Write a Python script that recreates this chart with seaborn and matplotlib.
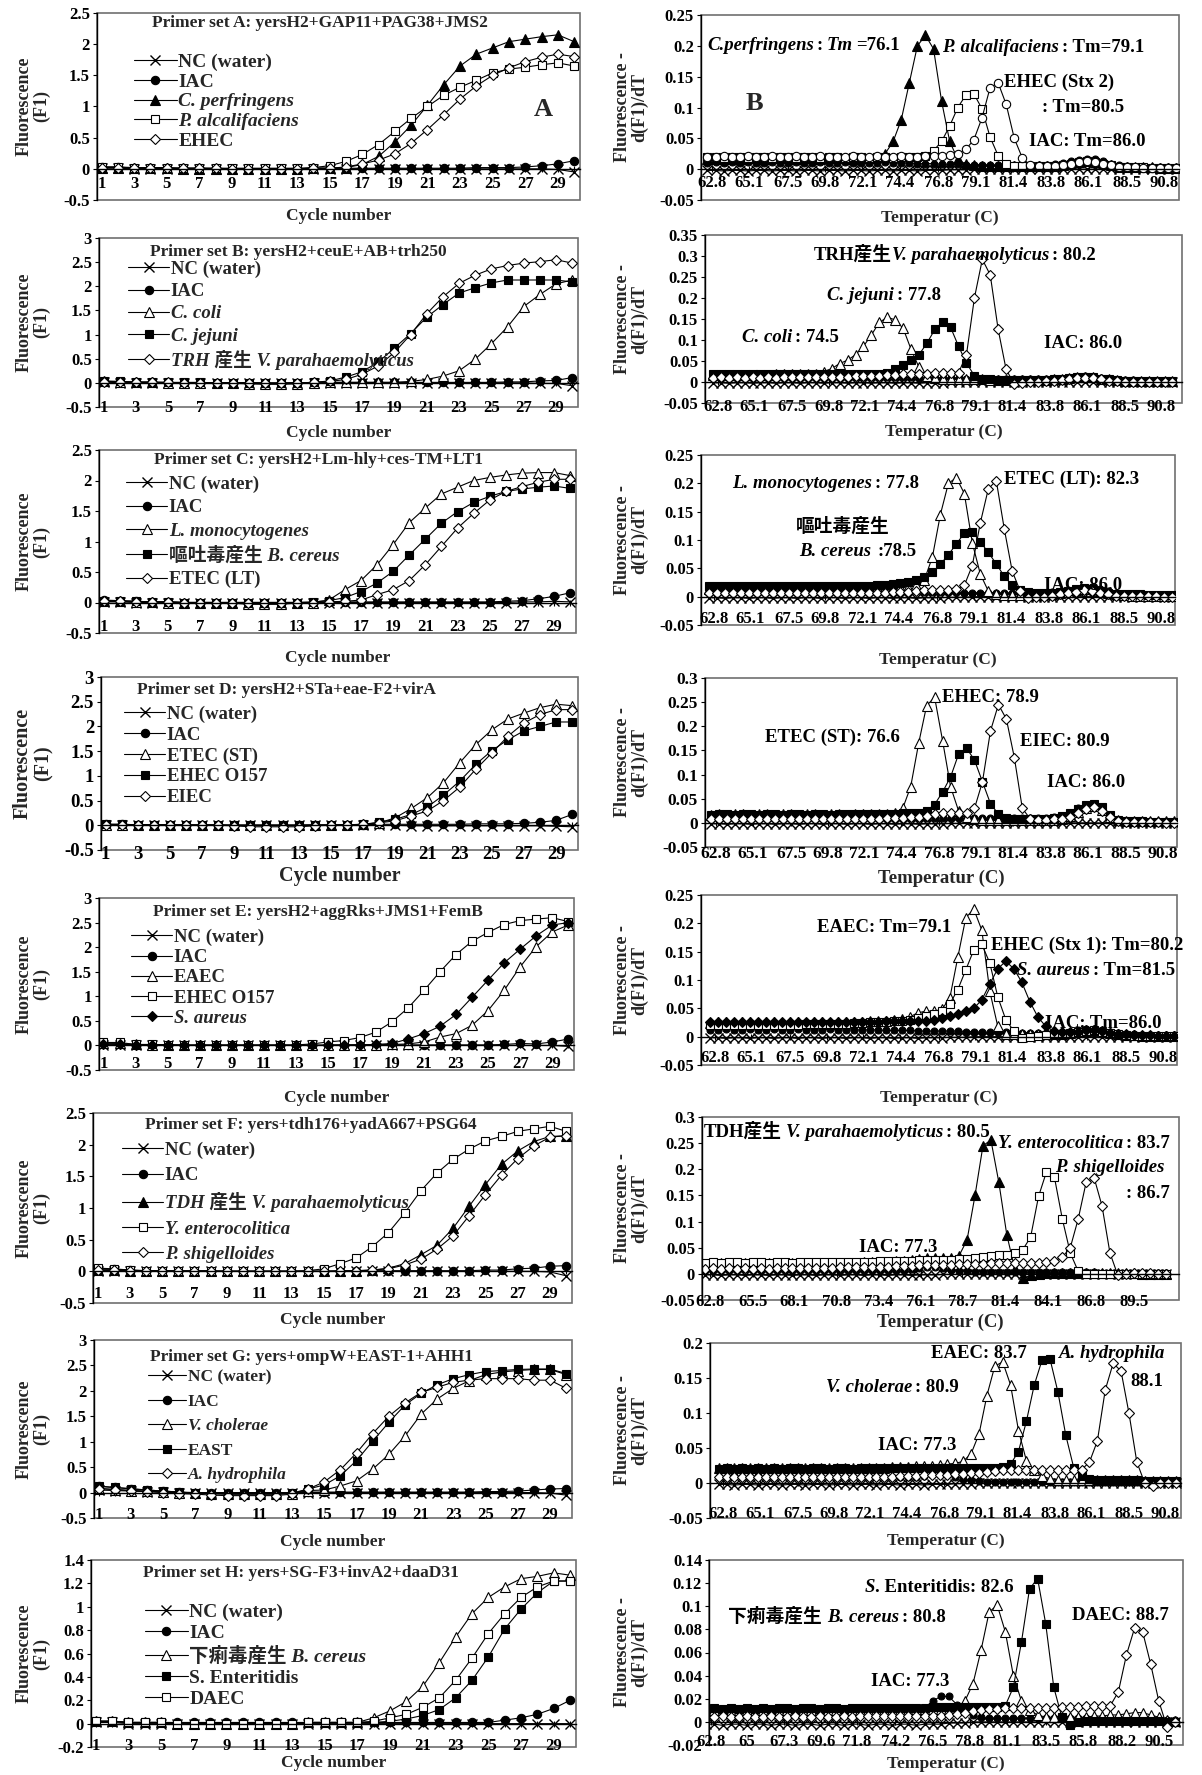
import matplotlib
matplotlib.use("Agg")
import matplotlib.pyplot as plt
import numpy as np
import seaborn as sns
from matplotlib.patches import Rectangle
from matplotlib.ticker import FuncFormatter

W, H = 1202, 1775

cycles = np.arange(1, 31)
melt_temps = np.arange(62.5, 91.6, 0.5)   # 59 read-out temperatures

# ---------------- amplification curves, F1 per cycle ----------------
ampA_nc = [0.01, 0.01, 0.0, 0.0, 0.0, 0.0, 0.0, 0.0, 0.0, 0.0, 0.0, 0.0, 0.0, 0.0, 0.0, 0.0, 0.0, 0.0, 0.0, 0.0, 0.0, 0.0, 0.0, 0.0, 0.0, 0.0, 0.0, 0.0, -0.01, -0.05]
ampA_iac = [0.03, 0.03, 0.01, 0.01, 0.01, 0.01, 0.01, 0.0, 0.0, 0.0, 0.0, 0.0, 0.0, 0.01, 0.01, 0.01, 0.01, 0.01, 0.01, 0.01, 0.01, 0.01, 0.01, 0.02, 0.02, 0.02, 0.03, 0.05, 0.08, 0.13]
ampA_cperf = [0.02, 0.02, 0.01, 0.01, 0.01, 0.0, 0.0, 0.0, 0.0, 0.0, 0.0, 0.0, 0.0, 0.01, 0.01, 0.02, 0.07, 0.2, 0.43, 0.7, 1.02, 1.35, 1.65, 1.84, 1.94, 2.04, 2.08, 2.12, 2.15, 2.04]
ampA_palc = [0.03, 0.03, 0.02, 0.02, 0.02, 0.01, 0.01, 0.01, 0.01, 0.01, 0.01, 0.01, 0.01, 0.02, 0.05, 0.12, 0.23, 0.39, 0.6, 0.81, 1.0, 1.18, 1.31, 1.42, 1.54, 1.6, 1.63, 1.67, 1.7, 1.65]
ampA_ehec = [0.02, 0.02, 0.01, 0.01, 0.01, 0.01, 0.01, 0.01, 0.0, 0.0, 0.0, 0.0, 0.0, 0.01, 0.01, 0.03, 0.08, 0.14, 0.24, 0.41, 0.63, 0.87, 1.12, 1.33, 1.5, 1.62, 1.72, 1.79, 1.84, 1.8]

ampB_nc = [0.02, 0.0, 0.0, 0.0, 0.0, 0.0, 0.0, 0.0, 0.0, 0.0, -0.01, -0.01, 0.0, 0.0, 0.0, 0.0, 0.0, 0.0, 0.0, 0.0, 0.0, 0.0, 0.0, 0.0, 0.0, 0.0, 0.0, -0.01, -0.01, -0.06]
ampB_iac = [0.03, 0.02, 0.01, 0.01, 0.0, 0.0, 0.0, 0.0, 0.0, 0.0, -0.01, -0.01, 0.0, 0.0, 0.01, 0.01, 0.01, 0.01, 0.01, 0.01, 0.01, 0.01, 0.01, 0.01, 0.01, 0.02, 0.02, 0.04, 0.05, 0.11]
ampB_ccoli = [0.03, 0.02, 0.01, 0.01, 0.0, 0.0, 0.0, 0.0, -0.01, -0.02, -0.03, -0.03, -0.02, 0.0, 0.01, 0.01, 0.01, 0.01, 0.01, 0.03, 0.07, 0.14, 0.25, 0.49, 0.81, 1.16, 1.58, 1.83, 2.05, 2.13]
ampB_cjej = [0.04, 0.03, 0.02, 0.02, 0.01, 0.01, 0.01, 0.0, 0.0, 0.0, -0.01, -0.01, 0.0, 0.01, 0.04, 0.12, 0.23, 0.43, 0.72, 1.02, 1.36, 1.62, 1.86, 1.97, 2.07, 2.13, 2.13, 2.13, 2.13, 2.09]
ampB_trh = [0.02, 0.02, 0.01, 0.01, 0.01, 0.0, 0.0, 0.0, 0.0, 0.0, 0.0, 0.0, 0.0, 0.01, 0.03, 0.07, 0.18, 0.35, 0.63, 1.0, 1.43, 1.78, 2.06, 2.23, 2.36, 2.43, 2.48, 2.51, 2.55, 2.48]

ampC_nc = [0.01, 0.01, 0.0, 0.0, 0.0, 0.0, 0.0, 0.0, 0.0, 0.0, 0.0, 0.0, 0.0, 0.0, 0.0, 0.0, 0.0, 0.0, 0.0, 0.0, 0.0, 0.0, 0.0, 0.0, 0.0, 0.0, 0.01, 0.01, 0.02, 0.01]
ampC_iac = [0.04, 0.03, 0.02, 0.01, 0.01, 0.0, 0.0, 0.0, 0.0, 0.0, 0.0, 0.0, 0.0, 0.0, 0.01, 0.01, 0.01, 0.01, 0.01, 0.01, 0.01, 0.01, 0.01, 0.01, 0.01, 0.02, 0.03, 0.06, 0.1, 0.16]
ampC_lmono = [0.02, 0.02, 0.01, 0.01, 0.0, 0.0, 0.0, 0.0, -0.01, -0.03, -0.03, -0.03, -0.01, 0.0, 0.04, 0.21, 0.36, 0.62, 0.95, 1.31, 1.55, 1.78, 1.89, 2.0, 2.05, 2.09, 2.12, 2.13, 2.13, 2.08]
ampC_bcer = [0.03, 0.03, 0.02, 0.01, 0.01, 0.0, 0.0, 0.0, 0.0, 0.0, 0.0, 0.0, 0.0, 0.01, 0.03, 0.08, 0.18, 0.32, 0.51, 0.78, 1.04, 1.3, 1.49, 1.64, 1.74, 1.82, 1.86, 1.89, 1.91, 1.87]
ampC_etec = [0.02, 0.02, 0.01, 0.01, 0.01, 0.0, 0.0, 0.0, 0.0, 0.0, 0.0, 0.0, 0.0, 0.0, 0.01, 0.02, 0.04, 0.13, 0.21, 0.36, 0.62, 0.92, 1.22, 1.46, 1.68, 1.82, 1.9, 1.97, 2.02, 2.02]

ampD_nc = [0.01, 0.01, 0.0, 0.0, 0.0, 0.0, 0.0, 0.0, 0.0, 0.0, 0.0, 0.0, 0.0, 0.0, 0.0, 0.0, 0.0, 0.0, 0.0, -0.01, -0.01, -0.01, -0.01, -0.01, -0.01, -0.01, -0.01, -0.01, -0.02, -0.03]
ampD_iac = [0.02, 0.02, 0.01, 0.01, 0.01, 0.01, 0.01, 0.01, 0.0, 0.0, 0.0, 0.0, 0.0, 0.01, 0.01, 0.01, 0.01, 0.02, 0.02, 0.02, 0.02, 0.02, 0.02, 0.03, 0.03, 0.03, 0.04, 0.06, 0.1, 0.22]
ampD_etec = [0.01, 0.01, 0.01, 0.01, 0.0, 0.0, 0.0, 0.0, 0.0, 0.0, 0.0, 0.0, 0.0, 0.0, 0.0, 0.01, 0.02, 0.05, 0.15, 0.34, 0.56, 0.86, 1.26, 1.63, 1.93, 2.15, 2.27, 2.38, 2.45, 2.42]
ampD_ehec = [0.02, 0.02, 0.01, 0.01, 0.01, 0.0, 0.0, 0.0, 0.0, 0.0, 0.0, 0.0, 0.0, 0.0, 0.0, 0.01, 0.02, 0.06, 0.12, 0.22, 0.37, 0.61, 0.89, 1.23, 1.51, 1.73, 1.91, 2.0, 2.09, 2.09]
ampD_eiec = [0.01, 0.01, 0.0, 0.0, 0.0, 0.0, 0.0, 0.0, -0.01, -0.03, -0.03, -0.03, -0.03, -0.01, 0.0, 0.0, 0.02, 0.05, 0.09, 0.19, 0.29, 0.5, 0.77, 1.13, 1.46, 1.8, 2.07, 2.24, 2.34, 2.34]

ampE_nc = [0.01, 0.01, 0.0, 0.0, 0.0, 0.0, 0.0, 0.0, 0.0, 0.0, 0.0, 0.0, 0.0, 0.0, 0.0, 0.0, 0.0, 0.0, 0.0, 0.0, 0.0, 0.0, 0.0, 0.0, 0.0, 0.0, 0.0, 0.0, 0.0, -0.02]
ampE_iac = [0.03, 0.02, 0.01, 0.01, 0.01, 0.0, 0.0, 0.0, 0.0, 0.0, 0.0, 0.0, 0.0, 0.0, 0.01, 0.01, 0.01, 0.01, 0.01, 0.01, 0.01, 0.01, 0.01, 0.01, 0.01, 0.02, 0.04, 0.03, 0.07, 0.13]
ampE_eaec = [0.05, 0.04, 0.02, 0.01, 0.01, 0.0, 0.0, 0.0, 0.0, 0.0, 0.0, 0.0, 0.0, 0.0, 0.0, 0.0, 0.01, 0.01, 0.02, 0.03, 0.07, 0.17, 0.24, 0.41, 0.71, 1.12, 1.6, 2.01, 2.31, 2.45]
ampE_ehec = [0.06, 0.06, 0.02, 0.02, 0.01, 0.01, 0.01, 0.01, 0.01, 0.01, 0.01, 0.01, 0.01, 0.03, 0.07, 0.1, 0.16, 0.27, 0.48, 0.76, 1.12, 1.5, 1.85, 2.12, 2.3, 2.46, 2.54, 2.57, 2.6, 2.52]
ampE_saur = [0.03, 0.03, 0.01, 0.01, 0.01, 0.0, 0.0, 0.0, 0.0, 0.0, 0.0, 0.0, 0.0, 0.0, 0.0, 0.01, 0.01, 0.02, 0.04, 0.13, 0.24, 0.39, 0.63, 0.98, 1.33, 1.68, 1.96, 2.23, 2.45, 2.5]

ampF_nc = [0.01, 0.01, 0.0, 0.0, 0.0, 0.0, 0.0, 0.0, 0.0, 0.0, 0.0, 0.0, 0.0, 0.0, 0.0, 0.0, 0.0, 0.0, 0.0, 0.0, 0.0, 0.0, 0.0, 0.0, 0.0, 0.0, 0.0, 0.0, -0.01, -0.07]
ampF_iac = [0.04, 0.03, 0.02, 0.01, 0.01, 0.0, 0.0, 0.0, 0.0, 0.0, 0.0, 0.0, 0.0, 0.0, 0.0, 0.01, 0.01, 0.01, 0.01, 0.01, 0.01, 0.01, 0.01, 0.01, 0.02, 0.02, 0.04, 0.05, 0.08, 0.09]
ampF_tdh = [0.02, 0.02, 0.01, 0.01, 0.0, 0.0, 0.0, 0.0, 0.0, 0.0, 0.0, 0.0, 0.0, 0.0, 0.0, 0.0, 0.01, 0.02, 0.05, 0.12, 0.26, 0.41, 0.68, 1.03, 1.37, 1.69, 1.9, 2.05, 2.13, 2.14]
ampF_yent = [0.05, 0.04, 0.02, 0.01, 0.01, 0.01, 0.01, 0.01, 0.0, 0.0, 0.0, 0.0, 0.0, 0.01, 0.04, 0.12, 0.21, 0.39, 0.61, 0.92, 1.27, 1.55, 1.77, 1.93, 2.06, 2.13, 2.21, 2.25, 2.29, 2.21]
ampF_pshig = [0.02, 0.02, 0.01, 0.01, 0.0, 0.0, 0.0, 0.0, 0.0, 0.0, 0.0, 0.0, 0.0, 0.0, 0.0, 0.0, 0.01, 0.02, 0.04, 0.1, 0.19, 0.35, 0.56, 0.88, 1.21, 1.52, 1.78, 1.98, 2.12, 2.14]

ampG_nc = [0.05, 0.04, 0.03, 0.02, 0.01, 0.0, 0.0, 0.0, 0.0, 0.0, 0.0, 0.0, 0.0, 0.0, 0.0, 0.0, 0.0, 0.0, 0.0, 0.0, 0.0, 0.0, 0.0, 0.0, 0.0, 0.0, 0.0, 0.0, -0.01, -0.05]
ampG_iac = [0.12, 0.1, 0.07, 0.05, 0.03, 0.01, 0.0, 0.0, 0.0, 0.0, 0.0, 0.0, 0.0, 0.01, 0.01, 0.01, 0.01, 0.01, 0.01, 0.01, 0.01, 0.01, 0.01, 0.01, 0.02, 0.02, 0.03, 0.05, 0.07, 0.08]
ampG_vchol = [0.08, 0.06, 0.04, 0.03, 0.01, 0.0, -0.01, -0.02, -0.03, -0.03, -0.03, -0.03, -0.02, 0.04, 0.05, 0.13, 0.23, 0.46, 0.75, 1.11, 1.54, 1.84, 2.05, 2.2, 2.32, 2.37, 2.4, 2.42, 2.42, 2.32]
ampG_east = [0.13, 0.1, 0.08, 0.05, 0.03, 0.01, -0.01, -0.02, -0.03, -0.03, -0.03, -0.03, -0.01, 0.07, 0.15, 0.33, 0.63, 1.01, 1.38, 1.72, 1.95, 2.12, 2.24, 2.32, 2.38, 2.4, 2.42, 2.43, 2.43, 2.34]
ampG_ahyd = [0.08, 0.06, 0.04, 0.02, 0.0, -0.02, -0.03, -0.05, -0.06, -0.06, -0.06, -0.06, -0.03, 0.07, 0.21, 0.45, 0.78, 1.16, 1.5, 1.76, 1.97, 2.07, 2.17, 2.21, 2.24, 2.24, 2.24, 2.21, 2.21, 2.05]

ampH_nc = [0.01, 0.01, 0.0, 0.0, 0.0, 0.0, 0.0, 0.0, 0.0, 0.0, 0.0, 0.0, 0.0, 0.0, 0.0, 0.0, 0.0, 0.0, 0.0, 0.0, 0.0, 0.0, 0.0, 0.0, 0.0, 0.0, 0.0, 0.0, 0.0, 0.0]
ampH_iac = [0.02, 0.02, 0.01, 0.01, 0.01, 0.01, 0.01, 0.01, 0.01, 0.01, 0.01, 0.01, 0.01, 0.01, 0.01, 0.01, 0.01, 0.01, 0.01, 0.01, 0.01, 0.01, 0.01, 0.01, 0.01, 0.03, 0.05, 0.08, 0.13, 0.2]
ampH_bcer = [0.02, 0.02, 0.01, 0.01, 0.01, 0.0, 0.0, 0.0, 0.0, 0.0, 0.0, 0.0, 0.0, 0.01, 0.01, 0.01, 0.01, 0.05, 0.11, 0.19, 0.32, 0.52, 0.74, 0.94, 1.08, 1.17, 1.24, 1.26, 1.29, 1.27]
ampH_sent = [0.02, 0.02, 0.01, 0.01, 0.01, 0.0, 0.0, 0.0, 0.0, 0.0, 0.0, 0.0, 0.0, 0.01, 0.01, 0.01, 0.01, 0.01, 0.02, 0.04, 0.07, 0.12, 0.22, 0.37, 0.57, 0.81, 0.98, 1.12, 1.22, 1.22]
ampH_daec = [0.02, 0.02, 0.01, 0.01, 0.01, 0.0, 0.0, 0.0, 0.0, 0.0, 0.0, 0.0, 0.0, 0.01, 0.01, 0.01, 0.01, 0.02, 0.05, 0.08, 0.14, 0.22, 0.37, 0.56, 0.77, 0.94, 1.08, 1.17, 1.22, 1.22]

# ---------------- melt curves, d(F1)/dT on melt_temps ----------------
melt_nc = [-.002, -.002, -.003, -.002, -.002, -.003, -.002, -.002, -.003, -.002,
           -.002, -.003, -.002, -.002, -.003, -.002, -.002, -.003, -.002, -.002,
           -.003, -.002, -.002, -.003, -.002, -.002, -.003, -.002, -.002, -.002,
           -.001, -.001, -.001, 0, 0, 0, 0, 0, 0, 0,
           0, 0, 0, 0, 0, 0, 0, 0, 0, 0,
           0, 0, 0, 0, 0, 0, 0, 0, 0]

meltA_iac = [.010, .011, .010, .011, .010, .011, .010, .010, .011, .010,
             .010, .011, .010, .010, .011, .010, .010, .011, .010, .010,
             .010, .010, .011, .010, .010, .010, .009, .009, .009, .008,
             .008, .008, .007, .007, .007, .006, .006, .006, .006, .006,
             .006, .006, .007, .008, .010, .013, .015, .017, .016, .013,
             .009, .006, .005, .004, .004, .003, .003, .003, .003]
meltA_cperf = [.016, .017, .017, .018, .017, .018, .018, .017, .018, .018,
               .018, .017, .018, .018, .017, .018, .018, .018, .017, .018,
               .018, .020, .025, .045, .080, .140, .200, .217, .195, .110,
               .045, .016, .008, .006, .005, .005, .005, .005, .005, .005,
               .005, .005, .005, .005, .006, .008, .011, .013, .012, .009,
               .006, .004, .003, .003, .003, .003, .002, .002, .002]
meltA_palc = [.019, .019, .018, .019, .019, .018, .019, .019, .018, .019,
              .019, .018, .019, .019, .018, .019, .019, .018, .019, .019,
              .018, .019, .019, .018, .019, .019, .020, .022, .030, .045,
              .070, .100, .120, .122, .098, .052, .022, .008, .005, .005,
              .005, .005, .005, .005, .006, .008, .011, .013, .012, .009,
              .006, .004, .003, .003, .003, .002, .002, .002, .002]
meltA_ehec = [.020, .020, .021, .020, .020, .021, .020, .020, .021, .020,
              .020, .021, .020, .020, .021, .020, .020, .020, .021, .020,
              .020, .021, .020, .020, .021, .020, .020, .021, .021, .022,
              .023, .025, .032, .048, .083, .132, .140, .105, .050, .018,
              .006, .005, .005, .005, .006, .008, .011, .013, .012, .009,
              .006, .004, .003, .003, .002, .002, .002, .002, .002]

meltB_iac = [.012, .013, .012, .012, .013, .012, .012, .013, .012, .012,
             .012, .012, .013, .012, .012, .012, .013, .012, .012, .012,
             .012, .012, .011, .011, .011, .011, .010, .010, .010, .010,
             .009, .009, .008, .008, .007, .007, .007, .006, .006, .006,
             .006, .006, .006, .007, .008, .010, .012, .014, .013, .010,
             .007, .005, .004, .004, .003, .003, .003, .003, .003]
meltB_ccoli = [.016, .017, .016, .017, .017, .016, .017, .017, .018, .018,
               .018, .018, .019, .020, .025, .032, .044, .052, .065, .085,
               .112, .142, .154, .148, .128, .078, .035, .015, .010, .008,
               .007, .007, .006, .006, .006, .005, .005, .005, .005, .005,
               .005, .005, .005, .006, .007, .009, .011, .012, .011, .008,
               .006, .004, .003, .003, .002, .002, .002, .002, .002]
meltB_cjej = [.018, .018, .019, .018, .018, .019, .018, .018, .019, .018,
              .018, .019, .018, .018, .019, .018, .018, .019, .018, .019,
              .019, .020, .022, .030, .040, .052, .065, .092, .125, .143,
              .130, .085, .045, .015, .008, .006, .005, .005, .005, .005,
              .005, .005, .005, .006, .007, .009, .011, .012, .011, .008,
              .006, .004, .003, .003, .003, .002, .002, .002, .002]
meltB_trh = [.010, .011, .010, .011, .010, .011, .010, .011, .010, .011,
             .011, .011, .012, .012, .012, .013, .013, .013, .014, .014,
             .015, .015, .016, .017, .018, .019, .020, .020, .021, .021,
             .021, .022, .065, .200, .292, .255, .125, .030, -.004, -.002,
             0, .001, .002, .003, .005, .007, .009, .010, .009, .006,
             .003, .002, .001, .001, .001, .001, 0, 0, 0]

meltC_iac = [.012, .012, .013, .012, .012, .013, .012, .012, .013, .012,
             .012, .013, .012, .012, .012, .013, .012, .012, .012, .012,
             .012, .011, .011, .011, .010, .010, .010, .009, .009, .009,
             .008, .008, .007, .007, .007, .006, .006, .006, .006, .006,
             .006, .007, .007, .008, .009, .011, .014, .016, .017, .014,
             .010, .006, .005, .004, .003, .003, .003, .003, .003]
meltC_lmono = [.014, .015, .014, .015, .014, .015, .014, .015, .014, .015,
               .015, .014, .015, .015, .014, .015, .015, .014, .015, .015,
               .015, .015, .016, .016, .017, .017, .020, .030, .070, .145,
               .200, .210, .182, .095, .040, .010, .004, .003, .003, .003,
               .003, .003, .004, .005, .007, .009, .012, .014, .013, .010,
               .006, .004, .003, .002, .002, .002, .001, .001, .001]
meltC_bcer = [.018, .018, .019, .018, .018, .019, .018, .018, .019, .018,
              .018, .019, .018, .018, .019, .018, .018, .019, .018, .019,
              .019, .020, .021, .022, .024, .026, .030, .035, .043, .057,
              .074, .093, .112, .114, .097, .078, .058, .036, .020, .012,
              .008, .006, .006, .007, .008, .010, .013, .015, .014, .010,
              .006, .004, .004, .004, .004, .003, .003, .003, .003]
meltC_etec = [.006, .006, .007, .006, .006, .007, .006, .006, .007, .006,
              .006, .007, .006, .006, .007, .006, .006, .007, .006, .007,
              .007, .007, .007, .008, .008, .009, .010, .011, .012, .012,
              .012, .013, .020, .055, .130, .190, .205, .120, .045, .010,
              -.002, -.001, 0, .002, .004, .006, .009, .011, .010, .007,
              .004, .002, .001, .001, .001, .001, .001, 0, 0]

meltD_iac = [.012, .013, .012, .012, .013, .012, .012, .013, .012, .012,
             .012, .013, .012, .012, .012, .013, .012, .012, .012, .012,
             .012, .011, .011, .011, .010, .010, .010, .010, .010, .010,
             .010, .010, .010, .010, .010, .010, .010, .010, .010, .011,
             .011, .011, .011, .012, .015, .020, .030, .038, .040, .030,
             .015, .006, .004, .003, .003, .002, .002, .002, .002]
meltD_etec = [.017, .018, .017, .018, .018, .017, .018, .018, .017, .018,
              .018, .017, .018, .018, .017, .018, .018, .017, .018, .018,
              .018, .018, .019, .020, .030, .075, .165, .243, .260, .170,
              .075, .025, .012, .008, .006, .005, .005, .005, .005, .005,
              .005, .005, .005, .006, .009, .014, .022, .030, .034, .026,
              .013, .005, .004, .003, .003, .003, .003, .003, .003]
meltD_ehec = [.017, .018, .018, .017, .018, .018, .017, .018, .018, .017,
              .018, .018, .017, .018, .018, .017, .018, .018, .018, .018,
              .018, .018, .019, .019, .020, .020, .021, .025, .038, .064,
              .095, .142, .155, .130, .085, .040, .018, .010, .008, .008,
              .008, .008, .009, .010, .014, .020, .028, .036, .040, .032,
              .016, .006, .004, .003, .003, .002, .002, .002, .002]
meltD_eiec = [.008, .008, .009, .008, .008, .009, .008, .008, .009, .008,
              .008, .009, .008, .008, .009, .008, .008, .009, .008, .009,
              .009, .009, .010, .010, .011, .012, .013, .015, .018, .020,
              .020, .020, .020, .030, .085, .190, .245, .215, .135, .030,
              .008, .006, .006, .007, .009, .013, .020, .028, .032, .025,
              .012, .004, .002, .001, .001, .001, .001, 0, 0]

meltE_iac = [.012, .012, .013, .012, .012, .013, .012, .012, .013, .012,
             .012, .013, .012, .012, .012, .013, .012, .012, .012, .012,
             .012, .012, .011, .011, .011, .011, .010, .010, .010, .010,
             .010, .010, .009, .009, .008, .008, .008, .008, .007, .007,
             .007, .007, .007, .007, .008, .009, .011, .013, .014, .012,
             .009, .006, .004, .004, .003, .003, .003, .003, .003]
meltE_eaec = [.024, .025, .025, .024, .025, .025, .024, .025, .025, .024,
              .025, .025, .024, .025, .025, .024, .025, .025, .026, .026,
              .027, .027, .028, .029, .031, .035, .042, .045, .045, .048,
              .068, .140, .210, .225, .188, .080, .018, .005, .004, .004,
              .004, .004, .004, .004, .005, .006, .008, .010, .011, .009,
              .006, .004, .003, .003, .002, .002, .002, .002, .002]
meltE_ehec = [.020, .021, .020, .021, .020, .021, .020, .021, .020, .021,
              .021, .021, .022, .022, .022, .023, .023, .023, .024, .024,
              .025, .025, .026, .027, .028, .030, .033, .036, .040, .045,
              .058, .083, .118, .153, .163, .130, .070, .030, .010, -.002,
              0, .002, .003, .004, .005, .006, .008, .010, .011, .009,
              .006, .004, .003, .002, .002, .002, .002, .002, .002]
meltE_saur = [.025, .026, .025, .026, .025, .026, .025, .026, .025, .026,
              .026, .025, .026, .026, .025, .026, .026, .026, .026, .026,
              .026, .026, .027, .027, .027, .027, .027, .028, .030, .033,
              .036, .040, .045, .050, .065, .093, .120, .133, .120, .096,
              .062, .035, .018, .010, .008, .008, .009, .011, .012, .010,
              .007, .005, .004, .003, .003, .003, .002, .002, .002]

meltF_iac = [.008, .008, .009, .008, .008, .009, .008, .008, .008, .008,
             .008, .008, .008, .008, .007, .007, .007, .007, .007, .007,
             .007, .007, .007, .007, .007, .008, .010, .012, .013, .013,
             .011, .008, .006, .005, .004, .004, .003, .003, .003, .003,
             .003, .003, .003, .003, .003, .003, .003, .003, .003, .003,
             .002, .002, .002, .002, .002, .002, .002, .002, .002]
meltF_tdh = [.019, .020, .020, .019, .020, .020, .019, .020, .020, .019,
             .020, .020, .019, .020, .020, .020, .020, .021, .021, .021,
             .022, .022, .023, .023, .024, .025, .026, .028, .030, .030,
             .031, .030, .035, .065, .150, .245, .256, .175, .075, .010,
             -.008, -.003, 0, .001, .001, .001, .001, .001, .001, .001,
             .001, .001, .001, .001, .001, 0, 0, 0, 0]
meltF_yent = [.021, .022, .021, .022, .022, .021, .022, .022, .021, .022,
              .022, .021, .022, .022, .022, .022, .022, .022, .023, .023,
              .023, .023, .024, .024, .024, .025, .025, .026, .026, .027,
              .027, .027, .028, .028, .030, .032, .034, .036, .037, .040,
              .046, .070, .148, .195, .185, .105, .040, .005, 0, 0,
              0, 0, 0, 0, 0, 0, 0, 0, 0]
meltF_pshig = [.010, .011, .010, .011, .010, .011, .010, .011, .010, .011,
               .011, .011, .011, .012, .012, .012, .012, .013, .013, .013,
               .013, .014, .014, .014, .015, .015, .015, .016, .016, .016,
               .017, .017, .018, .018, .019, .019, .020, .020, .020, .020,
               .020, .021, .021, .022, .025, .032, .050, .105, .175, .184,
               .130, .040, -.003, 0, .001, .001, .001, 0, 0]

meltG_iac = [.009, .009, .010, .009, .009, .010, .009, .009, .009, .009,
             .009, .009, .009, .009, .009, .008, .008, .008, .008, .008,
             .008, .008, .008, .008, .008, .009, .010, .011, .012, .011,
             .009, .006, .004, .003, .002, .002, .002, .002, .002, .002,
             .002, .002, .002, .002, .002, .002, .002, .002, .002, .002,
             .002, .002, .002, .002, .001, .001, .001, .001, .001]
meltG_vchol = [.021, .022, .022, .021, .022, .022, .021, .022, .022, .021,
               .022, .022, .021, .022, .022, .022, .022, .022, .022, .022,
               .022, .022, .023, .023, .023, .024, .024, .025, .026, .027,
               .028, .031, .042, .070, .125, .167, .173, .140, .075, .032,
               .018, .010, .006, .005, .005, .004, .004, .004, .004, .004,
               .004, .004, .004, .004, .003, .003, .003, .003, .003]
meltG_east = [.020, .021, .020, .021, .020, .021, .020, .021, .020, .021,
              .021, .020, .021, .021, .020, .021, .021, .020, .021, .021,
              .021, .021, .021, .021, .021, .021, .021, .021, .021, .021,
              .021, .021, .021, .021, .022, .022, .023, .027, .045, .088,
              .140, .176, .177, .130, .068, .022, .010, .006, .005, .005,
              .004, .004, .004, .004, .003, .003, .003, .003, .003]
meltG_ahyd = [.008, .008, .009, .008, .008, .009, .008, .008, .009, .008,
              .008, .009, .008, .008, .009, .008, .008, .009, .008, .009,
              .009, .009, .009, .010, .010, .010, .011, .011, .012, .012,
              .013, .013, .014, .015, .016, .017, .018, .019, .019, .019,
              .019, .019, .019, .019, .019, .018, .019, .030, .060, .133,
              .171, .160, .100, .030, 0, -.004, 0, 0, 0]

meltH_iac = [.008, .008, .009, .008, .008, .009, .008, .008, .009, .008,
             .008, .009, .008, .008, .009, .008, .008, .009, .008, .009,
             .009, .009, .009, .009, .009, .009, .010, .012, .018, .022,
             .022, .015, .010, .006, .004, .003, .003, .003, .003, .003,
             .003, .003, .003, .003, .003, .003, .003, .003, .003, .003,
             .003, .003, .003, .002, .002, .002, .002, .002, .002]
meltH_bcer = [.009, .010, .010, .009, .010, .010, .009, .010, .010, .009,
              .010, .010, .009, .010, .010, .010, .010, .010, .010, .010,
              .010, .010, .010, .010, .010, .010, .011, .011, .011, .011,
              .011, .012, .018, .033, .062, .095, .101, .078, .040, .018,
              .010, .006, .004, .004, .004, .004, .004, .004, .005, .005,
              .006, .006, .007, .008, .008, .006, .004, .002, .001]
meltH_sent = [.011, .012, .011, .012, .011, .012, .011, .012, .011, .012,
              .012, .011, .012, .012, .011, .012, .012, .011, .012, .012,
              .012, .012, .012, .012, .012, .012, .012, .012, .013, .013,
              .013, .013, .013, .013, .013, .013, .013, .014, .030, .069,
              .115, .124, .085, .030, .004, -.003, 0, .001, .001, .001,
              .001, .001, .001, .001, .001, .001, .001, 0, 0]
meltH_daec = [.004, .004, .005, .004, .004, .005, .004, .004, .005, .004,
              .004, .005, .004, .004, .005, .004, .004, .005, .004, .005,
              .005, .005, .005, .005, .005, .005, .005, .005, .005, .005,
              .006, .007, .008, .009, .010, .011, .011, .012, .012, .012,
              .012, .012, .012, .012, .013, .013, .013, .014, .014, .014,
              .014, .026, .058, .081, .078, .050, .018, -.004, 0]

# ---------------- tick labels ----------------
cycle_ticks = list(range(1, 31, 2))
temp_labels = ["62.8", "65.1", "67.5", "69.8", "72.1", "74.4", "76.8", "79.1", "81.4", "83.8", "86.1", "88.5", "90.8"]
temp_labels_f = ["62.8", "65.5", "68.1", "70.8", "73.4", "76.1", "78.7", "81.4", "84.1", "86.8", "89.5"]
temp_labels_h = ["62.8", "65", "67.3", "69.6", "71.8", "74.2", "76.5", "78.8", "81.1", "83.5", "85.8", "88.2", "90.5"]

sns.set_theme(style="white")
plt.rcParams["font.family"] = ["Liberation Serif", "Noto Sans CJK JP"]
plt.rcParams["font.weight"] = "bold"
plt.rcParams["axes.unicode_minus"] = False

STYLE = {
    "x": dict(marker="x", ms=7, mfc="black", mew=1.0),
    "o": dict(marker="o", ms=6, mfc="black", mew=0.8),
    "os": dict(marker="o", ms=5, mfc="black", mew=0.8),
    "oo": dict(marker="o", ms=6, mfc="white", mew=0.8),
    "^f": dict(marker="^", ms=7, mfc="black", mew=0.8),
    "^o": dict(marker="^", ms=7, mfc="white", mew=0.8),
    "sf": dict(marker="s", ms=6, mfc="black", mew=0.8),
    "so": dict(marker="s", ms=6, mfc="white", mew=0.8),
    "Do": dict(marker="D", ms=5, mfc="white", mew=0.8),
    "Df": dict(marker="D", ms=5, mfc="black", mew=0.8),
}

NC, IAC = "NC (water)", "IAC"
LEFT = [
    dict(frame=(97, 580, 13, 200), ylim=(-0.5, 2.5), ystep=0.5, pad=2.9, xlab_y=216,
         title="Primer set A: yersH2+GAP11+PAG38+JMS2", title_xy=(320, 23), legend=(134, 62, 19.6, 14),
         series=[(NC, "n", "x", ampA_nc), (IAC, "n", "o", ampA_iac), ("C. perfringens", "i", "^f", ampA_cperf),
                 ("P. alcalifaciens", "i", "so", ampA_palc), ("EHEC", "n", "Do", ampA_ehec)]),
    dict(frame=(99, 578, 238, 407), ylim=(-0.5, 3), ystep=0.5, pad=10, xlab_y=433,
         title="Primer set B: yersH2+ceuE+AB+trh250", title_xy=(298, 252), legend=(128, 269, 22, 13.5),
         series=[(NC, "n", "x", ampB_nc), (IAC, "n", "o", ampB_iac), ("C. coli", "i", "^o", ampB_ccoli),
                 ("C. jejuni", "i", "sf", ampB_cjej), ("TRH 産生 V. parahaemolyticus", "i", "Do", ampB_trh)]),
    dict(frame=(99, 576, 450, 633), ylim=(-0.5, 2.5), ystep=0.5, pad=9.4, xlab_y=658,
         title="Primer set C: yersH2+Lm-hly+ces-TM+LT1", title_xy=(318, 460), legend=(126, 484, 23.25, 13.5),
         series=[(NC, "n", "x", ampC_nc), (IAC, "n", "o", ampC_iac), ("L. monocytogenes", "i", "^o", ampC_lmono),
                 ("嘔吐毒産生 B. cereus", "i", "sf", ampC_bcer), ("ETEC (LT)", "n", "Do", ampC_etec)]),
    dict(frame=(101, 578, 677, 850), ylim=(-0.5, 3), ystep=0.5, pad=12.5, xlab_y=876, tick_fs=13.5, lab_fs=14.5,
         title="Primer set D: yersH2+STa+eae-F2+virA", title_xy=(286, 690), legend=(124, 714, 20.5, 13.5),
         series=[(NC, "n", "x", ampD_nc), (IAC, "n", "o", ampD_iac), ("ETEC (ST)", "n", "^o", ampD_etec),
                 ("EHEC O157", "n", "sf", ampD_ehec), ("EIEC", "n", "Do", ampD_eiec)]),
    dict(frame=(99, 574, 898, 1070), ylim=(-0.5, 3), ystep=0.5, pad=5, xlab_y=1098,
         title="Primer set E: yersH2+aggRks+JMS1+FemB", title_xy=(318, 912), legend=(131, 937, 20, 13.5),
         series=[(NC, "n", "x", ampE_nc), (IAC, "n", "o", ampE_iac), ("EAEC", "n", "^o", ampE_eaec),
                 ("EHEC O157", "n", "so", ampE_ehec), ("S. aureus", "i", "Df", ampE_saur)]),
    dict(frame=(93, 572, 1113, 1303), ylim=(-0.5, 2.5), ystep=0.5, pad=7.9, xlab_y=1320,
         title="Primer set F: yers+tdh176+yadA667+PSG64", title_xy=(311, 1125), legend=(122, 1150, 25, 13.5),
         series=[(NC, "n", "x", ampF_nc), (IAC, "n", "o", ampF_iac), ("TDH 産生 V. parahaemolyticus", "i", "^f", ampF_tdh),
                 ("Y. enterocolitica", "i", "so", ampF_yent), ("P. shigelloides", "i", "Do", ampF_pshig)]),
    dict(frame=(94, 572, 1340, 1518), ylim=(-0.5, 3), ystep=0.5, pad=7.9, xlab_y=1542,
         title="Primer set G: yers+ompW+EAST-1+AHH1", title_xy=(311, 1357), legend=(148, 1377, 24, 12.5),
         series=[(NC, "n", "x", ampG_nc), (IAC, "n", "o", ampG_iac), ("V. cholerae", "i", "^o", ampG_vchol),
                 ("EAST", "n", "sf", ampG_east), ("A. hydrophila", "i", "Do", ampG_ahyd)]),
    dict(frame=(91, 576, 1560, 1747), ylim=(-0.2, 1.4), ystep=0.2, pad=7.5, xlab_y=1763,
         title="Primer set H: yers+SG-F3+invA2+daaD31", title_xy=(301, 1573), legend=(145, 1612, 21.25, 14),
         series=[(NC, "n", "x", ampH_nc), (IAC, "n", "o", ampH_iac), ("下痢毒産生 B. cereus", "i", "^o", ampH_bcer),
                 ("S. Enteritidis", "n", "sf", ampH_sent), ("DAEC", "n", "so", ampH_daec)]),
]

RIGHT = [
    dict(frame=(701, 1179, 15, 200), ylim=(-0.05, 0.25), ystep=0.05, xlim=(62.1, 91.7), labels=temp_labels, pad=1.4, xlab_y=218,
         series=[("x", melt_nc), ("os", meltA_iac), ("^f", meltA_cperf), ("so", meltA_palc), ("oo", meltA_ehec)],
         notes=[(707, 45, [("C.perfringens", "i", 0), (":", "n", 2), ("Tm", "i", 3), ("=76.1", "n", 2)]),
                (942, 47, [("P. alcalifaciens", "i", 0), (": Tm=79.1", "n", 2)]),
                (1004, 82, [("EHEC (Stx 2)", "n", 0)]),
                (1042, 107, [(": Tm=80.5", "n", 0)]),
                (1029, 142, [("IAC: Tm=86.0", "n", 0)])]),
    dict(frame=(705, 1182, 235, 403), ylim=(-0.05, 0.35), ystep=0.05, xlim=(62.0, 92.1), labels=temp_labels, pad=10, xlab_y=432,
         series=[("x", melt_nc), ("os", meltB_iac), ("^o", meltB_ccoli), ("sf", meltB_cjej), ("Do", meltB_trh)],
         notes=[(814, 255, [("TRH産生", "n", 0), ("V. parahaemolyticus", "i", 0), (": 80.2", "n", 2)]),
                (827, 296, [("C. jejuni", "i", 0), (": 77.8", "n", 2)]),
                (742, 337, [("C. coli", "i", 0), (": 74.5", "n", 2)]),
                (1044, 343, [("IAC: 86.0", "n", 0)])]),
    dict(frame=(701, 1175, 455, 625), ylim=(-0.05, 0.25), ystep=0.05, xlim=(62.0, 91.7), labels=temp_labels, pad=7.9, xlab_y=660,
         series=[("x", melt_nc), ("os", meltC_iac), ("^o", meltC_lmono), ("sf", meltC_bcer), ("Do", meltC_etec)],
         notes=[(732, 484, [("L. monocytogenes", "i", 0), (": 77.8", "n", 2)]),
                (1004, 479, [("ETEC (LT): 82.3", "n", 0)]),
                (796, 527, [("嘔吐毒産生", "n", 0)]),
                (799, 552, [("B. cereus", "i", 0), (":78.5", "n", 5)]),
                (1044, 585, [("IAC: 86.0", "n", 0)])]),
    dict(frame=(705, 1177, 678, 847), ylim=(-0.05, 0.3), ystep=0.05, xlim=(62.1, 91.7), labels=temp_labels, pad=14, xlab_y=878,
         tick_fs=12.5, lab_fs=13.5,
         series=[("x", melt_nc), ("os", meltD_iac), ("^o", meltD_etec), ("sf", meltD_ehec), ("Do", meltD_eiec)],
         notes=[(942, 697, [("EHEC: 78.9", "n", 0)]),
                (765, 737, [("ETEC (ST): 76.6", "n", 0)]),
                (1020, 741, [("EIEC: 80.9", "n", 0)]),
                (1047, 782, [("IAC: 86.0", "n", 0)])]),
    dict(frame=(701, 1177, 895, 1065), ylim=(-0.05, 0.25), ystep=0.05, xlim=(61.95, 91.7), labels=temp_labels, pad=7.2, xlab_y=1098,
         series=[("x", melt_nc), ("os", meltE_iac), ("^o", meltE_eaec), ("so", meltE_ehec), ("Df", meltE_saur)],
         notes=[(817, 928, [("EAEC: Tm=79.1", "n", 0)]),
                (991, 945, [("EHEC (Stx 1): Tm=80.2", "n", 0)]),
                (1017, 970, [("S. aureus", "i", 0), (": Tm=81.5", "n", 2)]),
                (1045, 1023, [("IAC: Tm=86.0", "n", 0)])]),
    dict(frame=(702, 1179, 1117, 1300), ylim=(-0.05, 0.3), ystep=0.05, xlim=(62.3, 92.35), labels=temp_labels_f, pad=12.2, xlab_y=1322,
         lab_fs=13.5,
         series=[("x", melt_nc), ("os", meltF_iac), ("^f", meltF_tdh), ("so", meltF_yent), ("Do", meltF_pshig)],
         notes=[(704, 1132, [("TDH産生", "n", 0), ("V. parahaemolyticus", "i", 3), (": 80.5", "n", 2)]),
                (998, 1143, [("Y. enterocolitica", "i", 0), (": 83.7", "n", 2)]),
                (1055, 1167, [("P. shigelloides", "i", 0)]),
                (1126, 1194, [(": 86.7", "n", 0)]),
                (859, 1247, [("IAC: 77.3", "n", 0)])]),
    dict(frame=(710, 1181, 1343, 1518), ylim=(-0.05, 0.2), ystep=0.05, xlim=(61.95, 91.8), labels=temp_labels, pad=13.7, xlab_y=1541,
         series=[("x", melt_nc), ("os", meltG_iac), ("^o", meltG_vchol), ("sf", meltG_east), ("Do", meltG_ahyd)],
         notes=[(931, 1354, [("EAEC: 83.7", "n", 0)]),
                (1059, 1354, [("A. hydrophila", "i", 0)]),
                (826, 1387, [("V. cholerae", "i", 0), (": 80.9", "n", 2)]),
                (1130, 1382, [("88.1", "n", 0)]),
                (878, 1445, [("IAC: 77.3", "n", 0)])]),
    dict(frame=(709, 1183, 1560, 1745), ylim=(-0.02, 0.14), ystep=0.02, xlim=(62.66, 92.0), labels=temp_labels_h, pad=6.5, xlab_y=1764,
         series=[("x", melt_nc), ("os", meltH_iac), ("^o", meltH_bcer), ("sf", meltH_sent), ("Do", meltH_daec)],
         notes=[(865, 1588, [("S", "i", 0), (". Enteritidis: 82.6", "n", 0)]),
                (728, 1617, [("下痢毒産生", "n", 0), ("B. cereus", "i", 4), (": 80.8", "n", 2)]),
                (1072, 1615, [("DAEC: 88.7", "n", 0)]),
                (871, 1682, [("IAC: 77.3", "n", 0)])]),
]


def px_axes(fig, frame):
    x0, x1, y0, y1 = frame
    return fig.add_axes([x0 / W, 1 - y1 / H, (x1 - x0) / W, (y1 - y0) / H])


def draw(ax, x, y, key, label=None):
    st = STYLE[key]
    sns.lineplot(x=x, y=y, ax=ax, estimator=None, errorbar=None, sort=False, legend=False,
                 color="black", linewidth=0.8, marker=st["marker"], markersize=st["ms"],
                 markerfacecolor=st["mfc"], markeredgecolor="black", markeredgewidth=st["mew"])
    line = ax.lines[-1]
    if label:
        line.set_label(label)
    return line


def dress(ax, ylim, ystep, xlim, ticks, labels, pad, fs):
    ax.set_xlim(*xlim)
    ax.set_ylim(*ylim)
    ax.set_yticks(np.round(np.arange(ylim[0], ylim[1] + ystep / 2, ystep), 3))
    ax.yaxis.set_major_formatter(FuncFormatter(lambda v, p: f"{round(v, 3) + 0.0:g}"))
    ax.set_xticks(ticks, labels=labels)
    ax.set_xlabel("")
    ax.set_ylabel("")
    ax.grid(False)
    for side in ("top", "right"):
        ax.spines[side].set_visible(False)
    ax.spines["bottom"].set_position(("data", 0))
    for side in ("bottom", "left"):
        ax.spines[side].set_color("black")
        ax.spines[side].set_linewidth(1.0)
    ax.add_patch(Rectangle((0, 0), 1, 1, transform=ax.transAxes, fill=False,
                           edgecolor="#707070", lw=1.2, clip_on=False, zorder=0.5))
    ax.tick_params(axis="x", which="both", bottom=True, direction="inout", length=5, width=0.8,
                   color="black", pad=pad, labelsize=fs, labelcolor="black")
    ax.tick_params(axis="y", left=True, direction="out", length=3, width=0.8,
                   color="black", pad=2, labelsize=fs, labelcolor="black")


def rich_text(ax, x, y, parts, fs=13.5):
    prev = None
    for text, style, gap in parts:
        kw = dict(fontsize=fs, fontweight="bold", color="black", ha="left", annotation_clip=False,
                  fontstyle="italic" if style == "i" else "normal")
        if prev is None:
            prev = ax.annotate(text, xy=(x / W, 1 - y / H), xycoords="figure fraction", va="center", **kw)
        else:
            prev = ax.annotate(text, xy=(1, 0), xycoords=prev, xytext=(gap, 0),
                               textcoords="offset points", va="bottom", **kw)


fig = plt.figure(figsize=(W / 100, H / 100), dpi=100)

for spec in LEFT:
    ax = px_axes(fig, spec["frame"])
    lines, styles = [], []
    for label, style, key, vals in spec["series"]:
        lines.append(draw(ax, cycles, vals, key, label))
        styles.append(style)
    fs = spec.get("tick_fs", 12)
    dress(ax, spec["ylim"], spec["ystep"], (0.72, 30.36), cycle_ticks,
          [str(c) for c in cycle_ticks], spec["pad"], fs)
    ax.set_xticks(list(range(2, 31, 2)), minor=True)
    hx, yc, pitch, lfs = spec["legend"]
    lfs_px = lfs * 100 / 72
    leg = ax.legend(handles=lines, loc="upper left", bbox_to_anchor=(hx / W, 1 - (yc - 0.45 * lfs_px) / H),
                    bbox_transform=fig.transFigure, frameon=False, fontsize=lfs, handlelength=2.2,
                    handletextpad=0.08, labelspacing=max(pitch - 0.9 * lfs_px, 0) / lfs_px,
                    borderpad=0, borderaxespad=0)
    for t, st in zip(leg.get_texts(), styles):
        t.set_fontstyle("italic" if st == "i" else "normal")
        t.set_fontweight("bold")
    tx, ty = spec["title_xy"]
    fig.text(tx / W, 1 - ty / H, spec["title"], ha="center", va="center", fontsize=12.5, fontweight="bold")
    x0, x1, y0, y1 = spec["frame"]
    lab_fs = spec.get("lab_fs", 12.5)
    fig.text((x0 + x1) / 2 / W, 1 - spec["xlab_y"] / H, "Cycle number", ha="center", va="center",
             fontsize=lab_fs, fontweight="bold")
    fig.text(33 / W, 1 - (y0 + y1) / 2 / H, "Fluorescence\n(F1)", rotation=90, ha="center", va="center",
             multialignment="center", fontsize=max(lab_fs, 13), fontweight="bold", linespacing=1.05)

for spec in RIGHT:
    ax = px_axes(fig, spec["frame"])
    for key, vals in spec["series"]:
        draw(ax, melt_temps, vals, key)
    fs = spec.get("tick_fs", 12)
    dress(ax, spec["ylim"], spec["ystep"], spec["xlim"], [float(v) for v in spec["labels"]],
          spec["labels"], spec["pad"], fs)
    for x, y, parts in spec["notes"]:
        rich_text(ax, x, y, parts)
    x0, x1, y0, y1 = spec["frame"]
    lab_fs = spec.get("lab_fs", 12.5)
    fig.text((x0 + x1) / 2 / W, 1 - spec["xlab_y"] / H, "Temperatur (C)", ha="center", va="center",
             fontsize=lab_fs, fontweight="bold")
    fig.text(631 / W, 1 - (y0 + y1) / 2 / H, "Fluorescence -\nd(F1)/dT", rotation=90, ha="center", va="center",
             multialignment="center", fontsize=13, fontweight="bold", linespacing=1.05)

fig.text(543 / W, 1 - 110 / H, "A", ha="center", va="center", fontsize=19, fontweight="bold")
fig.text(754 / W, 1 - 103 / H, "B", ha="center", va="center", fontsize=19, fontweight="bold")

fig.savefig("out.png", dpi=100)
